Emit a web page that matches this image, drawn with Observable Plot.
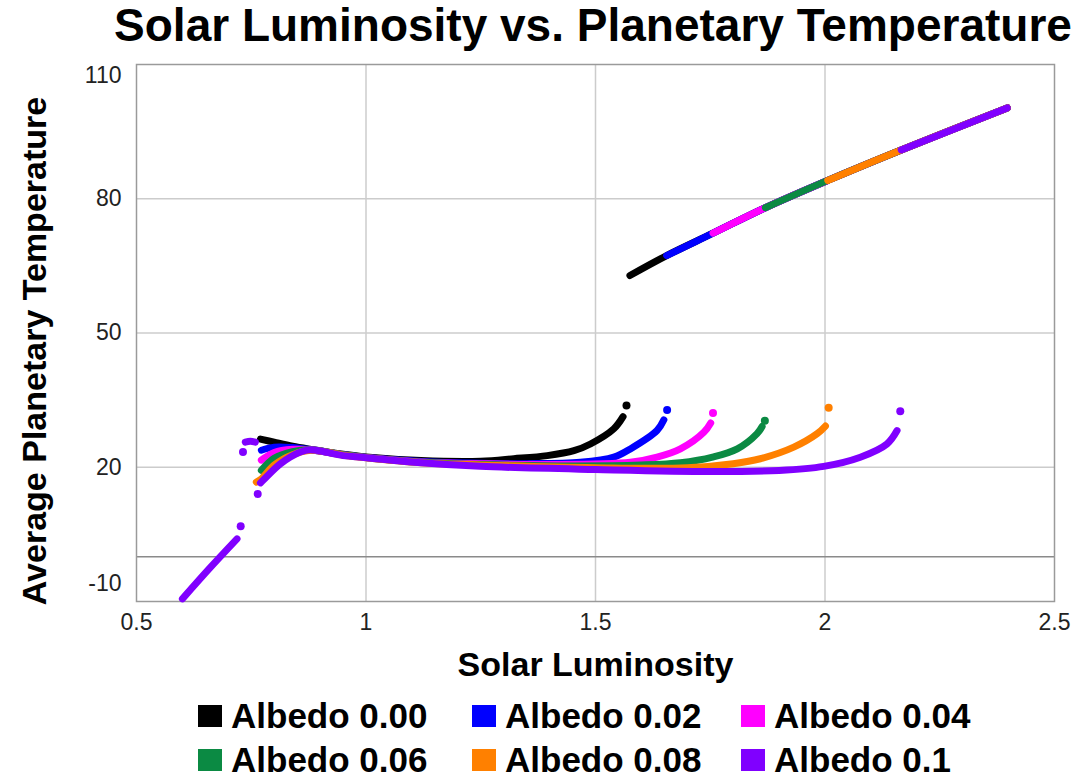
<!DOCTYPE html>
<html><head><meta charset="utf-8">
<script src="https://cdn.jsdelivr.net/npm/d3@7"></script>
<script src="https://cdn.jsdelivr.net/npm/@observablehq/plot@0.6"></script>
<style>
body{margin:0;background:#fff;font-family:"Liberation Sans",Arial,sans-serif;}
#wrap{position:relative;width:1076px;height:778px;overflow:hidden;}
#title{height:52px;line-height:50px;font-size:46px;font-weight:bold;text-align:center;padding-left:110px;box-sizing:border-box;width:1076px;color:#000;white-space:nowrap;}
#legend{display:grid;grid-template-columns:274px 269px 250px;grid-auto-rows:44px;margin-left:198px;margin-top:8px;}
.item{display:flex;align-items:center;font-size:35px;line-height:32px;height:32px;font-weight:bold;color:#000;white-space:nowrap;}
.sw{width:24px;height:22px;margin-right:9px;flex:none;}
</style></head>
<body><div id="wrap">
<div id="title">Solar Luminosity vs. Planetary Temperature</div>
<div id="chart"></div>
<div id="legend"></div>
</div>
<script>
const seriesNames = ["Albedo 0.00","Albedo 0.02","Albedo 0.04","Albedo 0.06","Albedo 0.08","Albedo 0.1"];
const seriesColors = ["#000000","#0000ff","#ff00ff","#0b8a43","#ff8000","#8000ff"];
const xTicks = [0.5, 1, 1.5, 2, 2.5];
const yTicks = [110, 80, 50, 20, -10];

// [luminosity, temperature] pairs per series and branch
const a000_low = [[0.770,26.3],[0.80,25.6],[0.84,24.7],[0.88,24.0],[0.95,22.9],[1.0,22.3],[1.12,21.5],[1.25,21.35],[1.322,21.9],[1.395,22.6],[1.453,23.7],[1.489,25.2],[1.540,28.6],[1.560,31.3]];
const a000_dot = [[1.5675,33.8]];
const a000_up  = [[1.575,62.85],[1.655,67.3],[1.756,72.3],[1.870,78.0],[2.006,84.1],[2.166,90.9],[2.397,100.3]];

const a002_low = [[0.772,23.8],[0.80,24.5],[0.84,24.4],[0.88,23.9],[0.95,22.8],[1.0,22.2],[1.12,21.3],[1.25,20.9],[1.35,20.8],[1.467,21.1],[1.540,22.25],[1.576,24.1],[1.634,28.2],[1.649,30.6]];
const a002_dot = [[1.656,32.8]];
const a002_up  = [[1.655,67.3],[1.756,72.3],[1.870,78.0],[2.006,84.1],[2.166,90.9],[2.397,100.3]];

const a004_low = [[0.772,21.6],[0.80,23.3],[0.84,24.0],[0.88,23.9],[0.95,22.8],[1.0,22.2],[1.12,21.2],[1.25,20.8],[1.4,20.6],[1.576,21.1],[1.634,22.25],[1.685,24.1],[1.736,27.8],[1.751,29.9]];
const a004_dot = [[1.756,32.1]];
const a004_up  = [[1.756,72.3],[1.870,78.0],[2.006,84.1],[2.166,90.9],[2.397,100.3]];

const a006_low = [[0.772,19.3],[0.80,22.0],[0.84,23.5],[0.88,23.9],[0.95,22.8],[1.0,22.2],[1.12,21.1],[1.25,20.6],[1.45,20.3],[1.6,20.5],[1.685,21.0],[1.755,22.25],[1.809,24.1],[1.852,27.5],[1.863,29.1]];
const a006_dot = [[1.869,30.4]];
const a006_up  = [[1.870,78.0],[2.006,84.1],[2.166,90.9],[2.397,100.3]];

const a008_low = [[0.761,16.7],[0.772,17.4],[0.80,20.5],[0.84,22.8],[0.88,23.8],[0.95,22.7],[1.0,22.1],[1.12,21.0],[1.25,20.5],[1.5,19.9],[1.7,19.9],[1.8,20.8],[1.859,21.9],[1.932,24.5],[1.983,27.5],[2.001,29.2]];
const a008_dot = [[2.008,33.3]];
const a008_up  = [[2.006,84.1],[2.166,90.9],[2.397,100.3]];

const a010_cold = [[0.600,-9.4],[0.659,-2.6],[0.719,4.0]];
const a010_top  = [[0.737,25.6],[0.748,25.8],[0.759,25.6]];
const a010_low  = [[0.770,16.5],[0.777,17.2],[0.814,20.8],[0.857,23.4],[0.879,23.9],[0.95,22.6],[0.995,22.2],[1.12,21.0],[1.249,20.2],[1.5,19.5],[1.75,19.05],[1.9,19.3],[1.997,20.2],[2.077,22.25],[2.135,25.2],[2.157,28.2]];
const a010_dot  = [[0.727,6.8],[0.764,14.0],[0.732,23.4],[2.164,32.5]];
const a010_up   = [[2.166,90.9],[2.397,100.3]];

const lineParts = [
  [0,"low",a000_low],[0,"up",a000_up],
  [1,"low",a002_low],[1,"up",a002_up],
  [2,"low",a004_low],[2,"up",a004_up],
  [3,"low",a006_low],[3,"up",a006_up],
  [4,"low",a008_low],[4,"up",a008_up],
  [5,"cold",a010_cold],[5,"top",a010_top],[5,"low",a010_low],[5,"up",a010_up]
];
const dotParts = [[0,a000_dot],[1,a002_dot],[2,a004_dot],[3,a006_dot],[4,a008_dot],[5,a010_dot]];

const lineRows = lineParts.flatMap(([s,seg,pts]) => pts.map(([x,y]) => ({series: seriesNames[s], key: s+"-"+seg, x, y})));
const dotRows = dotParts.flatMap(([s,pts]) => pts.map(([x,y]) => ({series: seriesNames[s], x, y})));

const chart = Plot.plot({
  width: 1076, height: 640,
  marginLeft: 136, marginRight: 22, marginTop: 12, marginBottom: 91,
  x: {domain: [0.5, 2.5]},
  y: {domain: [-10, 110]},
  color: {domain: seriesNames, range: seriesColors},
  style: {fontFamily: "'Liberation Sans', Arial, sans-serif", fontSize: "23px", color: "#222", background: "white"},
  marks: [
    Plot.gridX(xTicks.slice(1, -1), {stroke: "#cccccc", strokeOpacity: 1, strokeWidth: 1.5}),
    Plot.gridY(yTicks.slice(1, -1), {stroke: "#cccccc", strokeOpacity: 1, strokeWidth: 1.5}),
    Plot.ruleY([0], {stroke: "#8a8a8a", strokeWidth: 1.5}),
    Plot.frame({stroke: "#9a9a9a", strokeWidth: 1.5}),
    Plot.axisX(xTicks, {tickSize: 0, tickPadding: 12, tickFormat: d => String(d), label: null}),
    Plot.axisY(yTicks.slice(1, -1), {tickSize: 0, tickPadding: 15, tickFormat: d => String(d), label: null}),
    Plot.axisY([yTicks[0]], {tickSize: 0, tickPadding: 15, dy: 11, tickFormat: d => String(d), label: null}),
    Plot.axisY([yTicks[yTicks.length - 1]], {tickSize: 0, tickPadding: 15, dy: -18, tickFormat: d => String(d), label: null}),
    Plot.text(["Solar Luminosity"], {frameAnchor: "bottom", textAnchor: "middle", dy: 74, fontSize: 34, fontWeight: "bold", fill: "#000"}),
    Plot.text(["Average Planetary Temperature"], {frameAnchor: "left", textAnchor: "middle", rotate: -90, dx: -101, dy: 18, fontSize: 34, fontWeight: "bold", fill: "#000"}),
    Plot.line(lineRows, {x: "x", y: "y", z: "key", stroke: "series", strokeWidth: 7, strokeLinecap: "round", strokeLinejoin: "round", curve: "catmull-rom"}),
    Plot.dot(dotRows, {x: "x", y: "y", r: 4, fill: "series", stroke: "none"})
  ]
});
document.getElementById("chart").appendChild(chart);

const legend = document.getElementById("legend");
seriesNames.forEach((n, i) => {
  const it = document.createElement("div");
  it.className = "item";
  const sw = document.createElement("span");
  sw.className = "sw";
  sw.style.background = seriesColors[i];
  it.appendChild(sw);
  it.appendChild(document.createTextNode(n));
  legend.appendChild(it);
});
</script>
</body></html>
